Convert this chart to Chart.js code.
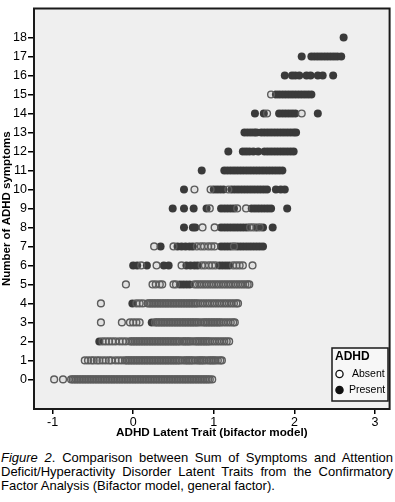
<!DOCTYPE html>
<html lang="en">
<head>
  <meta charset="UTF-8">
  <title>ADHD Latent Trait vs Number of Symptoms</title>
  <script src="https://cdn.jsdelivr.net/npm/chart.js"></script>
  <style>
    body {
      margin: 0;
      background-color: #fff;
      font-family: 'Liberation Sans', Arial, sans-serif;
      width: 395px;
      height: 502px;
      position: relative;
      overflow: hidden;
    }
    #scatter {
      position: absolute;
      left: 0;
      top: 0;
    }
    .caption {
      position: absolute;
      left: 1px;
      top: 451px;
      width: 392px;
      font-size: 13px;
      line-height: 14px;
      color: #000;
    }
    .caption div {
      text-align: justify;
      text-align-last: justify;
      white-space: nowrap;
    }
    .caption div.last {
      text-align-last: left;
    }
  </style>
</head>
<body>
  <canvas id="scatter" width="395" height="442"></canvas>
  <div class="caption">
    <div><em>Figure 2</em>. Comparison between Sum of Symptoms and Attention</div>
    <div>Deficit/Hyperactivity Disorder Latent Traits from the Confirmatory</div>
    <div class="last">Factor Analysis (Bifactor model, general factor).</div>
  </div>

  <script>
    // number of ADHD symptoms (y) - one row of dots per count
    const symptomCounts = [0, 1, 2, 3, 4, 5, 6, 7, 8, 9, 10, 11, 12, 13, 14, 15, 16, 17, 18];

    // latent trait values, one list per symptom count
    const absentX = [
      [-0.98, -0.87,
       -0.77, -0.75, -0.73, -0.71, -0.69, -0.67, -0.65, -0.63, -0.61, -0.59,
       -0.57, -0.55, -0.53, -0.51, -0.49, -0.47, -0.45, -0.43, -0.41, -0.39,
       -0.37, -0.35, -0.33, -0.31, -0.29, -0.27, -0.25, -0.23, -0.21, -0.19,
       -0.17, -0.15, -0.13, -0.11, -0.09, -0.07, -0.05, -0.03, -0.01, 0.01,
       0.03, 0.05, 0.07, 0.09, 0.11, 0.13, 0.15, 0.17, 0.19, 0.21,
       0.23, 0.25, 0.27, 0.29, 0.31, 0.33, 0.35, 0.37, 0.39, 0.41,
       0.43, 0.45, 0.47, 0.49, 0.51, 0.53, 0.55, 0.57, 0.59, 0.61,
       0.63, 0.65, 0.67, 0.69, 0.71, 0.73, 0.75, 0.77, 0.79, 0.81,
       0.83, 0.85, 0.87, 0.89, 0.91, 0.93, 0.95, 0.98],
      [-0.60, -0.56, -0.52, -0.49, -0.45, -0.42, -0.38, -0.34, -0.30, -0.27, -0.22, -0.18, -0.14, -0.10,
       -0.08, -0.06, -0.04, -0.02, 0.00, 0.02, 0.04, 0.06, 0.08, 0.10,
       0.12, 0.14, 0.16, 0.18, 0.20, 0.22, 0.24, 0.26, 0.28, 0.30,
       0.32, 0.34, 0.36, 0.38, 0.40, 0.42, 0.44, 0.46, 0.48, 0.50,
       0.52, 0.54, 0.56, 0.58, 0.61, 0.64, 0.66, 0.68, 0.70, 0.72,
       0.74, 0.77, 0.80, 0.82, 0.84, 0.86, 0.88, 0.91, 0.94, 0.96,
       0.98, 1.00, 1.02, 1.05, 1.08, 1.10],
      [-0.38, -0.34, -0.30, -0.26, -0.22, -0.17, -0.13, -0.09,
       -0.04, -0.02, 0.00, 0.02, 0.04, 0.06, 0.08, 0.10, 0.12, 0.14,
       0.16, 0.18, 0.20, 0.22, 0.24, 0.26, 0.28, 0.30, 0.32, 0.34,
       0.36, 0.38, 0.40, 0.42, 0.44, 0.46, 0.48, 0.50, 0.52, 0.54,
       0.56, 0.58, 0.61, 0.63, 0.65, 0.67, 0.69, 0.71, 0.74, 0.77,
       0.79, 0.81, 0.83, 0.85, 0.87, 0.89, 0.91, 0.93, 0.95, 0.98,
       1.01, 1.04, 1.07, 1.10, 1.13, 1.16, 1.19],
      [-0.40, -0.14, -0.04, 0.00, 0.04, 0.08,
       0.27, 0.29, 0.31, 0.33, 0.35, 0.37, 0.39, 0.41, 0.43, 0.45,
       0.47, 0.49, 0.51, 0.53, 0.55, 0.57, 0.59, 0.61, 0.63, 0.65,
       0.67, 0.69, 0.71, 0.73, 0.75, 0.77, 0.79, 0.81, 0.84, 0.87,
       0.89, 0.91, 0.93, 0.95, 0.97, 0.99, 1.01, 1.03, 1.05, 1.07,
       1.09, 1.12, 1.15, 1.18, 1.21, 1.24, 1.26],
      [-0.40, 0.04, 0.08, 0.12,
       0.18, 0.20, 0.22, 0.24, 0.26, 0.28, 0.30, 0.32, 0.34, 0.36,
       0.38, 0.40, 0.42, 0.44, 0.46, 0.48, 0.50, 0.52, 0.54, 0.56,
       0.58, 0.60, 0.62, 0.64, 0.66, 0.68, 0.70, 0.72, 0.74, 0.76,
       0.78, 0.80, 0.83, 0.86, 0.89, 0.92, 0.95, 0.98, 1.01, 1.04,
       1.07, 1.10, 1.13, 1.16, 1.19, 1.22, 1.25, 1.28, 1.30],
      [-0.09, 0.24, 0.28, 0.33, 0.36, 0.50, 0.53,
       0.76, 0.79, 0.82, 0.85, 0.88, 0.91, 0.94, 0.97, 1.00, 1.03,
       1.06, 1.09, 1.12, 1.15, 1.18, 1.21, 1.24, 1.27, 1.30, 1.33,
       1.36, 1.39, 1.42, 1.44],
      [0.10, 0.29, 0.60, 0.85, 0.89, 0.94, 0.98, 1.02, 1.24, 1.28, 1.32, 1.36, 1.48],
      [0.26, 0.50, 0.79, 0.84, 0.88, 0.93, 0.97, 1.01, 1.25],
      [0.86, 1.01, 1.45, 1.49, 1.57],
      [0.95, 1.29, 1.40],
      [0.76, 0.96, 1.18],
      [],
      [],
      [],
      [1.66, 2.09],
      [1.71],
      [],
      [],
      []
    ];

    const presentX = [
      [],
      [],
      [-0.42],
      [0.23],
      [-0.01],
      [0.58, 0.62, 0.66, 0.70],
      [0.00, 0.05, 0.17, 0.38, 0.44, 0.66, 0.71, 0.76, 0.80, 1.07, 1.11, 1.15, 1.19],
      [0.34, 0.55, 0.60, 0.65, 0.70, 0.74, 1.09, 1.13, 1.17, 1.21, 1.29, 1.33, 1.37, 1.41, 1.45, 1.49, 1.53, 1.57, 1.61],
      [0.63, 0.74, 0.77, 1.09, 1.13, 1.17, 1.21, 1.25, 1.29, 1.33, 1.37, 1.41, 1.53, 1.61, 1.73],
      [0.49, 0.63, 0.75, 0.91, 1.09, 1.13, 1.17, 1.21, 1.25, 1.47, 1.51, 1.55, 1.59, 1.63, 1.67, 1.71, 1.91],
      [0.63, 1.00, 1.04, 1.08, 1.12, 1.22, 1.26, 1.30, 1.34, 1.38, 1.42, 1.46, 1.50, 1.54, 1.58, 1.62, 1.66, 1.77, 1.83, 1.88],
      [0.85, 1.13, 1.17, 1.21, 1.25, 1.29, 1.33, 1.37, 1.41, 1.45, 1.49, 1.53, 1.57, 1.61, 1.65, 1.69, 1.73, 1.77, 1.81, 1.85],
      [1.18, 1.36, 1.40, 1.44, 1.49, 1.55, 1.63, 1.67, 1.71, 1.75, 1.79, 1.83, 1.87, 1.91, 1.95, 1.99],
      [1.38, 1.42, 1.46, 1.50, 1.53, 1.59, 1.63, 1.67, 1.71, 1.75, 1.79, 1.83, 1.87, 1.91, 1.95, 1.99, 2.02],
      [1.51, 1.62, 1.81, 1.85, 1.89, 1.93, 1.97, 2.01, 2.29],
      [1.77, 1.81, 1.85, 1.89, 1.93, 1.97, 2.01, 2.05, 2.09, 2.13, 2.17, 2.21],
      [1.88, 1.97, 2.01, 2.06, 2.15, 2.20, 2.29, 2.35, 2.48],
      [2.09, 2.21, 2.25, 2.29, 2.33, 2.37, 2.41, 2.45, 2.49, 2.53, 2.58],
      [2.61]
    ];

    const xTicks = [-1, 0, 1, 2, 3];
    const yTicks = symptomCounts;
    const groupNames = ['Absent', 'Present'];
    const legendTitle = 'ADHD';

    const FONT = "'Liberation Sans', Arial, sans-serif";

    function toPoints(rows) {
      const pts = [];
      rows.forEach((row, i) => {
        row.forEach(x => pts.push({ x: x, y: symptomCounts[i] }));
      });
      return pts;
    }

    const absentStyle = { radius: 3.4, fill: 'rgba(120,120,120,0.12)', stroke: '#5c5c5c', width: 1.4 };
    const presentStyle = { radius: 4, fill: '#3a3a3a', stroke: '#3a3a3a', width: 0 };

    // plot background, frame and the legend box inside the plot
    const framePlugin = {
      id: 'frame',
      beforeDatasetsDraw(chart) {
        const { ctx, chartArea: a } = chart;
        ctx.save();
        ctx.fillStyle = '#efefef';
        ctx.fillRect(a.left, a.top, a.right - a.left, a.bottom - a.top);
        ctx.restore();
      },
      afterDatasetsDraw(chart) {
        const { ctx, chartArea: a } = chart;
        ctx.save();
        ctx.strokeStyle = '#1a1a1a';
        ctx.lineWidth = 2;
        ctx.strokeRect(a.left, a.top, a.right - a.left, a.bottom - a.top);

        // legend
        const lx = 332, ly = 348, lw = 56, lh = 53;
        ctx.fillStyle = '#f7f7f7';
        ctx.fillRect(lx, ly, lw, lh);
        ctx.lineWidth = 1.5;
        ctx.strokeRect(lx, ly, lw, lh);
        ctx.fillStyle = '#000';
        ctx.textBaseline = 'middle';
        ctx.font = 'bold 12px ' + FONT;
        ctx.fillText(legendTitle, lx + 3, ly + 9);
        ctx.font = '10.5px ' + FONT;
        groupNames.forEach((name, i) => {
          const cy = ly + 26 + i * 16;
          ctx.beginPath();
          ctx.arc(lx + 7.5, cy, 3.6, 0, Math.PI * 2);
          ctx.fillStyle = i === 0 ? '#fff' : '#111';
          ctx.fill();
          ctx.lineWidth = 1.3;
          ctx.strokeStyle = '#111';
          ctx.stroke();
          ctx.fillStyle = '#000';
          ctx.fillText(name, lx + (i === 0 ? 20 : 17), cy);
        });
        ctx.restore();
      }
    };

    const ctx = document.getElementById('scatter').getContext('2d');
    const chart = new Chart(ctx, {
      type: 'scatter',
      data: {
        datasets: [
          {
            label: groupNames[0],
            data: toPoints(absentX),
            pointRadius: absentStyle.radius,
            pointBackgroundColor: absentStyle.fill,
            pointBorderColor: absentStyle.stroke,
            pointBorderWidth: absentStyle.width,
            order: 0
          },
          {
            label: groupNames[1],
            data: toPoints(presentX),
            pointRadius: presentStyle.radius,
            pointBackgroundColor: presentStyle.fill,
            pointBorderColor: presentStyle.stroke,
            pointBorderWidth: presentStyle.width,
            order: 1
          }
        ]
      },
      options: {
        responsive: false,
        animation: false,
        layout: { padding: { top: 7, right: 5, left: 0, bottom: 0 } },
        plugins: {
          legend: { display: false },
          tooltip: { enabled: false }
        },
        scales: {
          x: {
            type: 'linear',
            min: -1.23,
            max: 3.18,
            afterBuildTicks: s => { s.ticks = xTicks.map(v => ({ value: v })); },
            afterFit: s => { s.height = 33; },
            grid: { drawOnChartArea: false, drawTicks: true, tickLength: 5, color: '#000', lineWidth: 1.5 },
            border: { display: false },
            ticks: { color: '#000', padding: 1, font: { family: FONT, size: 12.5 } },
            title: {
              display: true,
              text: 'ADHD Latent Trait (bifactor model)',
              color: '#000',
              font: { family: FONT, size: 11.7, weight: 'bold' },
              padding: { top: 0, bottom: 2 }
            }
          },
          y: {
            type: 'linear',
            min: -1.56,
            max: 19.53,
            afterBuildTicks: s => { s.ticks = yTicks.map(v => ({ value: v })); },
            afterFit: s => { s.width = 34; },
            grid: { drawOnChartArea: false, drawTicks: true, tickLength: 6, color: '#000', lineWidth: 1.5 },
            border: { display: false },
            ticks: { color: '#000', padding: 1, font: { family: FONT, size: 12.5 } },
            title: {
              display: true,
              text: 'Number of ADHD symptoms',
              color: '#000',
              font: { family: FONT, size: 11.5, weight: 'bold' },
              padding: { top: 0, bottom: 0 }
            }
          }
        }
      },
      plugins: [framePlugin]
    });
  </script>
</body>
</html>
